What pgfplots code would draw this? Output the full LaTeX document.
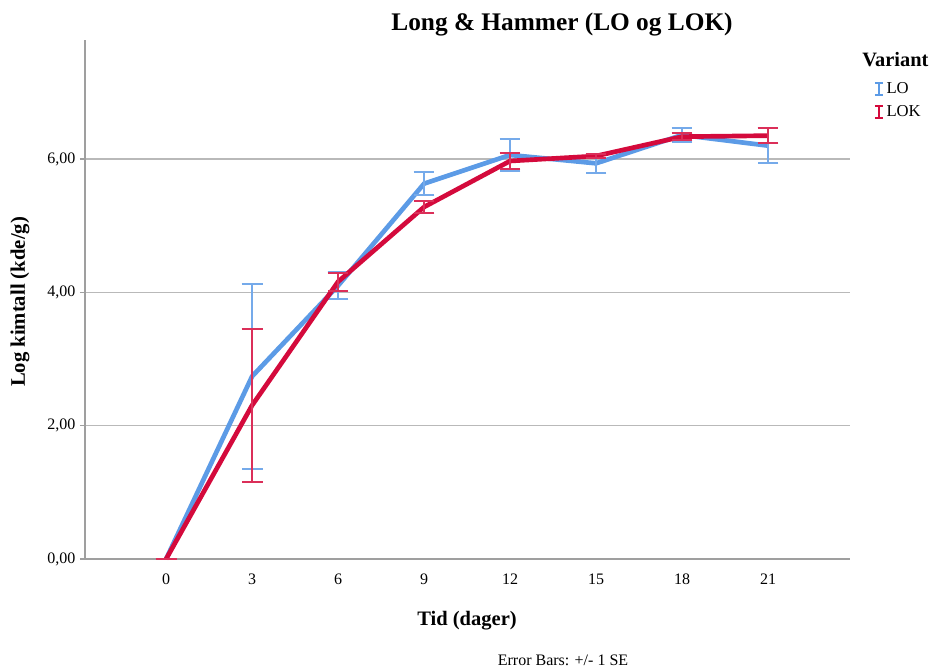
\documentclass[border=0pt]{standalone}
\usepackage{fontspec}
\setmainfont{Liberation Serif}
\usepackage{pgfplots}
\pgfplotsset{compat=1.18}
\definecolor{loblue}{RGB}{92,155,230}
\definecolor{lokred}{RGB}{212,10,60}
\pgfplotstableread{
x y e
0 0 0
3 2.74 1.39
6 4.10 0.20
9 5.63 0.17
12 6.06 0.235
15 5.935 0.14
18 6.36 0.11
21 6.20 0.265
}\lodata
\pgfplotstableread{
x y e
0 0 0
3 2.305 1.145
6 4.16 0.135
9 5.28 0.085
12 5.97 0.125
15 6.045 0.03
18 6.335 0.05
21 6.35 0.11
}\lokdata
\newcommand\PX[2]{({#1*0.75pt},{(669-#2)*0.75pt})}
\begin{document}
\begin{tikzpicture}
\useasboundingbox (0,0) rectangle (699pt,501.75pt);
\begin{axis}[
  at={(63.75pt,82.5pt)}, anchor=south west,
  scale only axis, width=573.75pt, height=389.25pt,
  xmin=-2.83, xmax=23.86, ymin=0, ymax=7.785,
  axis x line*=bottom, axis y line*=left,
  axis line style={gray!75, line width=0.8pt},
  xtick={0,3,6,9,12,15,18,21},
  xticklabels={0,3,6,9,12,15,18,21},
  ytick={0,2,4,6},
  yticklabels={{0,00},{2,00},{4,00},{6,00}},
  ymajorgrids, major grid style={gray!55, line width=0.8pt},
  tick align=outside, major tick length=3.75pt,
  xtick style={draw=none},
  ytick style={gray!75, line width=0.8pt},
  tick label style={font=\fontsize{12}{14}\selectfont, black},
  xticklabel style={yshift=-4pt},
  clip=false,
  legend style={at={(1.031,0.923)}, anchor=north west, draw=none, fill=none,
    font=\fontsize{12.5}{14}\selectfont, row sep=3pt, inner sep=0pt},
  legend cell align=left,
]
\addplot[loblue, line width=3.5pt, mark=none,
  legend image code/.code={\draw[loblue, line width=1.4pt] (0.2cm,-4.5pt)--(0.2cm,4.5pt) (0.2cm-3pt,-4.5pt)--(0.2cm+3pt,-4.5pt) (0.2cm-3pt,4.5pt)--(0.2cm+3pt,4.5pt);},
  error bars/.cd, y dir=both, y explicit,
  error bar style={line width=1.3pt, loblue!85!white},
  error mark options={loblue!85!white, line width=1.3pt, mark size=7.8pt, rotate=90}]
  table[x=x, y=y, y error=e] {\lodata};
\addlegendentry{LO}
\addplot[lokred, line width=3.5pt, mark=none,
  legend image code/.code={\draw[lokred, line width=1.4pt] (0.2cm,-4.5pt)--(0.2cm,4.5pt) (0.2cm-3pt,-4.5pt)--(0.2cm+3pt,-4.5pt) (0.2cm-3pt,4.5pt)--(0.2cm+3pt,4.5pt);},
  error bars/.cd, y dir=both, y explicit,
  error bar style={line width=1.3pt, lokred!85!white},
  error mark options={lokred!85!white, line width=1.3pt, mark size=7.8pt, rotate=90}]
  table[x=x, y=y, y error=e] {\lokdata};
\addlegendentry{LOK}
\end{axis}
\node[font=\bfseries\fontsize{19}{22}\selectfont] at \PX{562}{25} {Long \& Hammer (LO og LOK)};
\node[font=\bfseries\fontsize{15.4}{18}\selectfont] at \PX{467}{621} {Tid (dager)};
\node[font=\bfseries\fontsize{15.5}{18}\selectfont, rotate=90] at \PX{20}{302} {Log kimtall (kde/g)};
\node[font=\fontsize{12}{14}\selectfont] at \PX{563}{660} {Error Bars: +/- 1 SE};
\node[font=\bfseries\fontsize{15.3}{18}\selectfont, anchor=west, inner sep=0pt] at \PX{862}{60} {Variant};
\end{tikzpicture}
\end{document}
